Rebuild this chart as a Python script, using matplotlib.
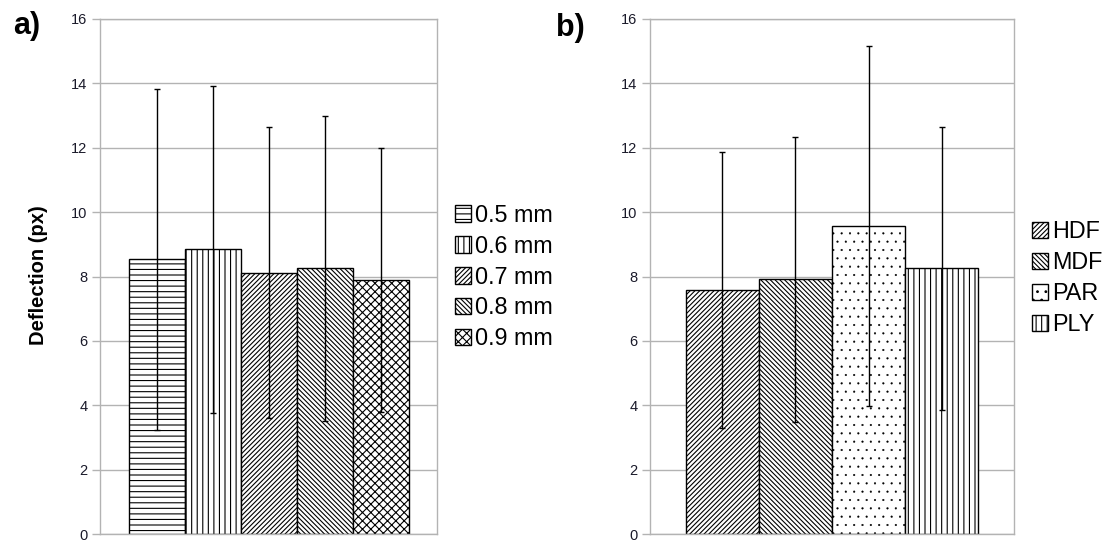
import matplotlib
matplotlib.use("Agg")
import matplotlib.pyplot as plt

plt.rcParams['font.family'] = ['Liberation Sans', 'DejaVu Sans']

# Panel a: thickness
labels_a = ['0.5 mm', '0.6 mm', '0.7 mm', '0.8 mm', '0.9 mm']
means_a = [8.54, 8.84, 8.12, 8.26, 7.89]
errs_a = [5.30, 5.08, 4.53, 4.74, 4.10]
hatches_a = ['---', '|||', '///////', '\\\\\\\\\\\\\\', 'xxxx']

# Panel b: material
labels_b = ['HDF', 'MDF', 'PAR', 'PLY']
means_b = [7.58, 7.91, 9.57, 8.25]
errs_b = [4.29, 4.43, 5.58, 4.40]
hatches_b = ['///////', '\\\\\\\\\\\\\\', '..', '|||']

yticks = [0, 2, 4, 6, 8, 10, 12, 14, 16]
grid_col = '#b3b3b3'

W, H = 1103, 542
fig = plt.figure(figsize=(W / 100, H / 100), dpi=100)
ax1 = fig.add_axes([100 / W, 1 - 534 / H, 337 / W, 515 / H])
ax2 = fig.add_axes([650 / W, 1 - 534 / H, 364 / W, 515 / H])


def draw(ax, labels, means, errs, hatches, xlim, legend_x, legend_y):
    for i in range(len(labels)):
        # thinner strokes for the dotted fill so the dots stay small
        plt.rcParams['hatch.linewidth'] = 0.3 if '.' in hatches[i] else 0.8
        ax.bar(i, means[i], width=1.0, color='white', edgecolor='black',
               linewidth=1.0, hatch=hatches[i], label=labels[i], zorder=2)
        ax.errorbar(i, means[i], yerr=errs[i], color='black', linewidth=1.0,
                    capsize=2.5, capthick=1.0, zorder=3)
    ax.set_xlim(*xlim)
    ax.set_ylim(0, 16)
    ax.set_yticks(yticks)
    ax.set_xticks([])
    ax.yaxis.grid(True, color=grid_col, linewidth=1.0, zorder=0)
    ax.set_axisbelow(True)
    for s in ax.spines.values():
        s.set_color(grid_col)
        s.set_linewidth(1.0)
    ax.tick_params(axis='y', length=6, width=1.0, color=grid_col,
                   labelsize=10.5, labelcolor='#1a1a2a', pad=3)
    handles, lbls = ax.get_legend_handles_labels()
    fig.legend(handles, lbls, loc='center left',
               bbox_to_anchor=(legend_x / W, 1 - legend_y / H),
               frameon=False, fontsize=16.8, handlelength=0.7,
               handleheight=0.7, handletextpad=0.17, labelspacing=0.34,
               borderpad=0, borderaxespad=0)


draw(ax1, labels_a, means_a, errs_a, hatches_a, (-1.02, 5.0), 455, 277)
draw(ax2, labels_b, means_b, errs_b, hatches_b, (-0.99, 3.99), 1032, 278)

fig.text(38 / W, 1 - 275 / H, 'Deflection (px)', fontsize=14.5,
         fontweight='bold', rotation=90, ha='center', va='center')

fig.text(27 / W, 1 - 26 / H, 'a)', fontsize=22, fontweight='bold',
         ha='center', va='center')
fig.text(570 / W, 1 - 28 / H, 'b)', fontsize=22, fontweight='bold',
         ha='center', va='center')

fig.savefig('out.png', dpi=100)
